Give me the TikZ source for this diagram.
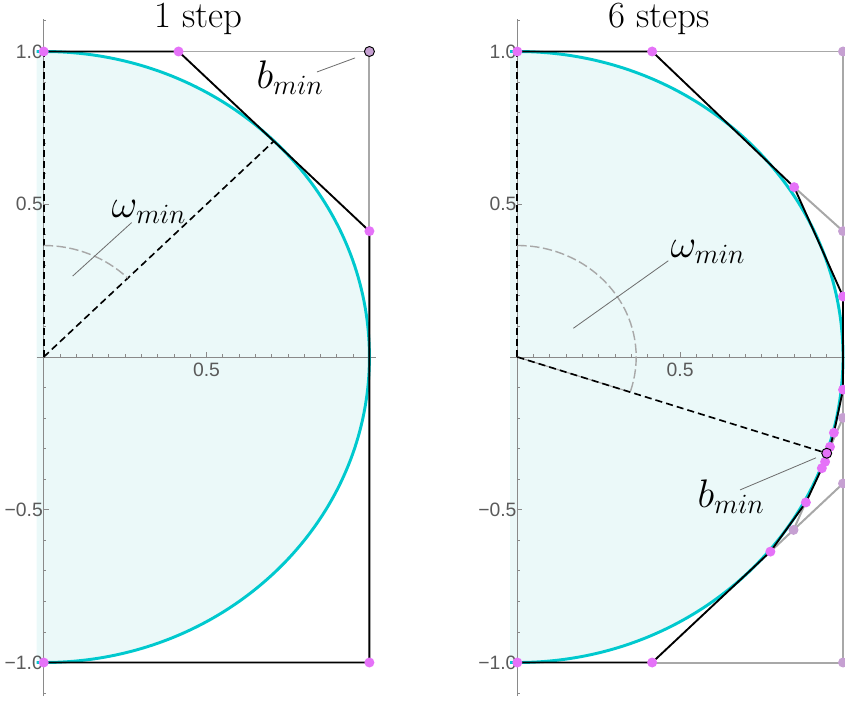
\RequirePackage{fix-cm}
\documentclass[tikz,border=0pt]{standalone}
\usepackage{fontspec}
\newfontfamily\ticksans{Liberation Sans}

\definecolor{discfill}{RGB}{235,249,249}
\definecolor{disccyan}{RGB}{0,201,206}
\definecolor{ptpink}{RGB}{229,114,248}
\definecolor{ptgray}{RGB}{198,160,210}
\definecolor{oldgray}{RGB}{168,168,168}
\definecolor{axgray}{RGB}{138,138,138}
\definecolor{lblgray}{RGB}{90,90,90}
\definecolor{leadgray}{RGB}{110,110,110}

\tikzset{
  axisline/.style={draw=axgray, line width=0.8pt},
  oldline/.style={draw=oldgray, line width=1.7pt},
  discline/.style={draw=disccyan, line width=2.5pt},
  hullline/.style={draw=black, line width=1.6pt, line join=round},
  guideline/.style={draw=black, line width=1.4pt, dash pattern=on 6pt off 3.5pt},
  anglearc/.style={draw=oldgray, line width=1.2pt, dash pattern=on 8pt off 3pt},
  leader/.style={draw=leadgray, line width=0.7pt},
  ticklbl/.style={font=\ticksans\fontsize{16.5}{19}\selectfont, text=lblgray, inner sep=0pt},
  bigmath/.style={font=\fontsize{34}{40}\selectfont, inner sep=0pt},
  paneltitle/.style={font=\fontsize{31.5}{36}\selectfont, inner sep=0pt, anchor=base},
}

\begin{document}
\begin{tikzpicture}[x=9.771cm,y=9.165cm]
  \useasboundingbox (-0.1342,-1.1293) rectangle (2.4602,1.1686);

  % common part of both panels: half disc, axes, ticks
  \foreach \dx/\pn in {0/l,1.4541/r} {
    \begin{scope}[shift={(\dx,0)}]
      \fill[discfill] (-0.022,1) -- (0,1) arc[start angle=90, end angle=-90, radius=1]
        -- (-0.022,-1) -- cycle;
      \draw[axisline] (-0.022,0) -- (1.02,0);
      \draw[axisline] (0,-1.11) -- (0,1.106);
      \foreach \i in {1,...,20}
        \draw[axisline] (\i*0.05,0) -- ++(0,0.009);
      \foreach \i in {-11,...,11}
        \draw[axisline] (0,\i*0.1) -- ++(0.008,0);
      \foreach \v in {0.5,1}
        \draw[axisline] (\v,0) -- ++(0,0.016);
      \foreach \v in {-1,-0.5,0.5,1}
        \draw[axisline] (0,\v) -- ++(0.015,0);
      \node[ticklbl] (\pn x5) at (0.5,-0.043) {0.5};
      \foreach \v/\t/\k in {1/1.0/a, 0.5/0.5/b, -0.5/−0.5/c, -1/−1.0/d}
        \node[ticklbl, anchor=east] (\pn y\k) at (-0.002,\v) {\t};
    \end{scope}
  }

  % left panel
  \draw[oldline] (0.414,1) -- (1,1) -- (1,0.412);
  \draw[discline] (-0.022,1) -- (0,1) arc[start angle=90, end angle=-90, radius=1] -- (-0.022,-1);
  \draw[hullline] (0,1) -- (0.414,1) -- (1,0.412) -- (1,-1) -- (0,-1);
  \draw[guideline] (0,0) -- (0,1);
  \draw[guideline] (0,0) -- (45:1);
  \draw[anglearc] (0,0.365) arc[start angle=90, end angle=45, radius=0.365];
  \foreach \p in {(0,1),(0.414,1),(1,0.412),(1,-1),(0,-1)}
    \fill[ptpink] \p circle[radius=0.15cm];
  \filldraw[fill=ptgray, draw=black, line width=0.8pt] (1,1) circle[radius=0.15cm];
  \node[paneltitle] (ttl1) at (0.475,1.077) {1 step};
  \node[bigmath] (wl) at (0.323,0.475) {$\omega_{min}$};
  \coordinate (wlp) at (0.089,0.265);
  \draw[leader] (wlp) -- (0.270,0.440);
  \node[bigmath] (bl) at (0.756,0.915) {$b_{min}$};
  \coordinate (blp) at (0.956,0.979);
  \draw[leader] (0.839,0.933) -- (blp);

  % right panel
  \begin{scope}[shift={(1.4541,0)}]
    \draw[oldline] (0.414,1) -- (1,1) -- (1,-1) -- (0.414,-1);
    \draw[oldline] (0.850,0.556) -- (1,0.412);
    \draw[oldline] (0.777,-0.637) -- (1,-0.414);
    \draw[oldline] (1,-0.199) -- (0.848,-0.566);
    \draw[discline] (-0.022,1) -- (0,1) arc[start angle=90, end angle=-90, radius=1] -- (-0.022,-1);
    \draw[hullline] (0,1) -- (0.414,1) -- (0.850,0.556) -- (1,0.198) -- (1,-0.107)
      -- (0.972,-0.248) -- (0.960,-0.294) -- (0.950,-0.315) -- (0.945,-0.343)
      -- (0.935,-0.364) -- (0.886,-0.476) -- (0.777,-0.637) -- (0.414,-1) -- (0,-1);
    \draw[guideline] (0,0) -- (0,1);
    \draw[oldline, line width=1pt] (0,0) -- (-18.35:0.365);
    \draw[guideline] (0,0) -- (0.950,-0.315);
    \draw[anglearc] (0,0.365) arc[start angle=90, end angle=-18.35, radius=0.365];
    \foreach \p in {(1,1),(1,0.412),(1,-0.199),(1,-0.414),(0.848,-0.566),(1,-1)}
      \fill[ptgray] \p circle[radius=0.15cm];
    \foreach \p in {(0,1),(0.414,1),(0.850,0.556),(1,0.198),(1,-0.107),(0.972,-0.248),
        (0.960,-0.294),(0.945,-0.343),(0.935,-0.364),(0.886,-0.476),(0.777,-0.637),
        (0.414,-1),(0,-1)}
      \fill[ptpink] \p circle[radius=0.15cm];
    \filldraw[fill=ptpink, draw=black, line width=0.8pt] (0.950,-0.315) circle[radius=0.15cm];
    \node[paneltitle] (ttl6) at (0.435,1.077) {6 steps};
    \node[bigmath] (wr) at (0.585,0.344) {$\omega_{min}$};
    \coordinate (wrp) at (0.172,0.094);
    \draw[leader] (wrp) -- (0.4636,0.315);
    \node[bigmath] (br) at (0.656,-0.458) {$b_{min}$};
    \coordinate (brp) at (0.917,-0.330);
    \draw[leader] (0.684,-0.435) -- (brp);
  \end{scope}
\end{tikzpicture}
\end{document}
